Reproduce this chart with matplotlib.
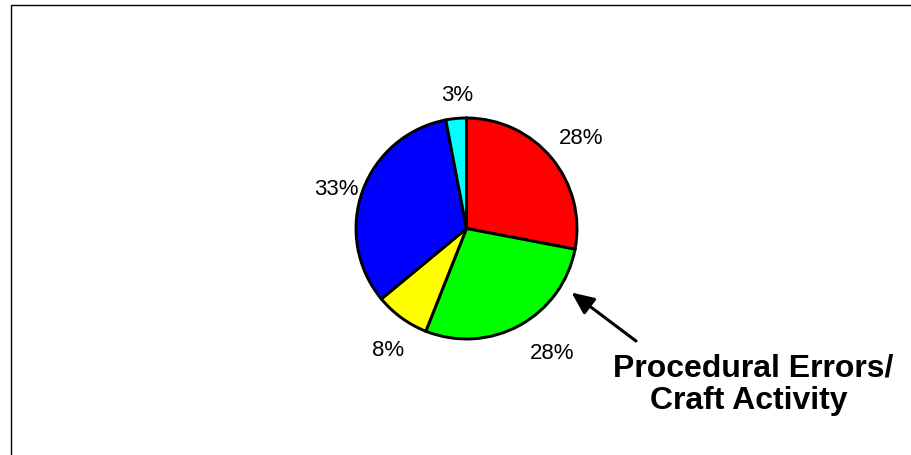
import matplotlib
matplotlib.use("Agg")
import matplotlib.pyplot as plt
from matplotlib.patches import Rectangle

plt.rcParams['font.family'] = ['Liberation Sans', 'DejaVu Sans']

# slice shares in percent, clockwise from 12 o'clock
shares = [28, 28, 8, 33, 3]
colors = ['#ff0000', '#00ff00', '#ffff00', '#0000ff', '#00ffff']
callout = ["Procedural Errors/", "Craft Activity"]

W, H = 912, 456
fig = plt.figure(figsize=(W / 100, H / 100), dpi=100)
ax = fig.add_axes([0, 0, 1, 1])

# pie laid out in pixel units (y measured from the bottom)
cx, cy, r = 466.5, H - 229.5, 110.5
wedges, texts, pcts = ax.pie(shares, colors=colors, startangle=90, counterclock=False,
                             center=(cx, cy), radius=r, frame=True,
                             autopct='%d%%', pctdistance=1.29,
                             wedgeprops=dict(edgecolor='black', linewidth=2.1),
                             textprops=dict(fontsize=16, color='black'))

# small nudges so the labels sit where the original put them (pixels)
nudges = [(5, 0), (17, 1), (5, -6), (4, -8), (4.5, -8)]
for t, (dx, dy) in zip(pcts, nudges):
    x, y = t.get_position()
    t.set_position((x + dx, y + dy))

ax.set_xlim(0, W)
ax.set_ylim(0, H)
ax.set_aspect('equal')
ax.axis('off')

# callout text and arrow pointing at the green slice
ax.text(753, H - 377, callout[0], ha='center', va='baseline',
        fontsize=23, fontweight='bold')
ax.text(749, H - 409, callout[1], ha='center', va='baseline',
        fontsize=23, fontweight='bold')
ax.annotate('', xy=(571.5, H - 293.5), xytext=(636, H - 342),
            arrowprops=dict(arrowstyle='-|>,head_length=0.45,head_width=0.2',
                            mutation_scale=30, lw=2.2, color='black',
                            shrinkA=0, shrinkB=0))

# slide frame (right and bottom edges run off the picture)
ax.add_patch(Rectangle((11.5, -20), 1000, H - 5.5 + 20, fill=False,
                       edgecolor='black', linewidth=1.0, clip_on=False))

fig.savefig("out.png", dpi=100)
